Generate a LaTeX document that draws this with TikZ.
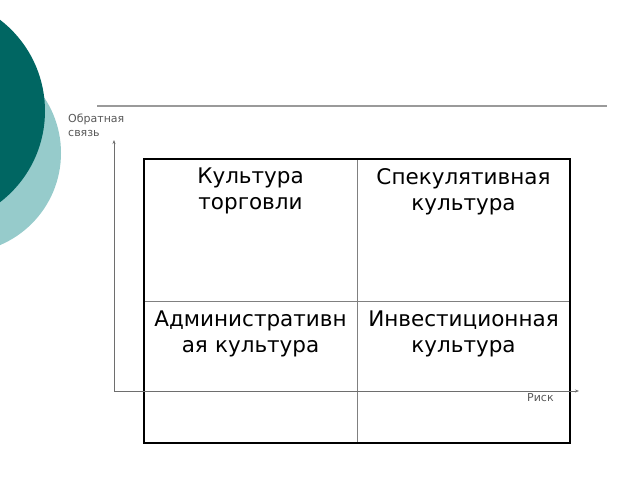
\documentclass[tikz,border=0pt]{standalone}
\usepackage{fontspec}
\setmainfont{DejaVu Sans}
\usetikzlibrary{arrows.meta}
\definecolor{tealdark}{RGB}{0,102,98}
\definecolor{teallight}{RGB}{150,203,203}
\definecolor{axisgray}{RGB}{110,110,110}
\begin{document}
\begin{tikzpicture}[x=1pt,y=-1pt,
  cell/.style={anchor=north,text width=210pt,align=center,inner sep=0pt,
    font=\fontsize{21.5}{26}\selectfont},
  small/.style={inner sep=0pt,text=axisgray!80!black,font=\fontsize{11}{14}\selectfont},
  axis/.style={axisgray,line width=0.8pt,-{Stealth[length=4pt,width=3pt]}},
  grid/.style={gray,line width=0.8pt}]
\useasboundingbox (0,0) rectangle (640,480);
% круги слева
\begin{scope}
\clip (0,0) rectangle (640,480);
\fill[teallight] (-39,153) circle (100);
\fill[tealdark] (-70,111) circle (115);
\end{scope}
% линия сверху
\draw[axisgray!70,line width=1.4pt] (97,106) -- (607,106);
% таблица
\draw[grid] (357,159) -- (357,443);
\draw[grid] (144,301) -- (570,301);
\draw[line width=1.6pt] (144,159) rectangle (570,443);
% оси
\coordinate (origin) at (114,391);
\coordinate (ytip) at (114,140);
\coordinate (xtip) at (579,391);
\draw[axis] (origin) -- (ytip);
\draw[axis] (origin) -- (xtip);
\node[small,anchor=base west,align=left] (ylab) at (68,136) {Обратная\\связь};
\node[small,anchor=base west] (xlab) at (527,401) {Риск};
% тексты ячеек
\node[cell] (trade) at (250.5,168) {Культура\\торговли};
\node[cell] (spec) at (463.5,168) {Спекулятивная\\культура};
\node[cell] (admin) at (250.5,311) {Административн\\ая культура};
\node[cell] (invest) at (463.5,311) {Инвестиционная\\культура};
\end{tikzpicture}
\end{document}
